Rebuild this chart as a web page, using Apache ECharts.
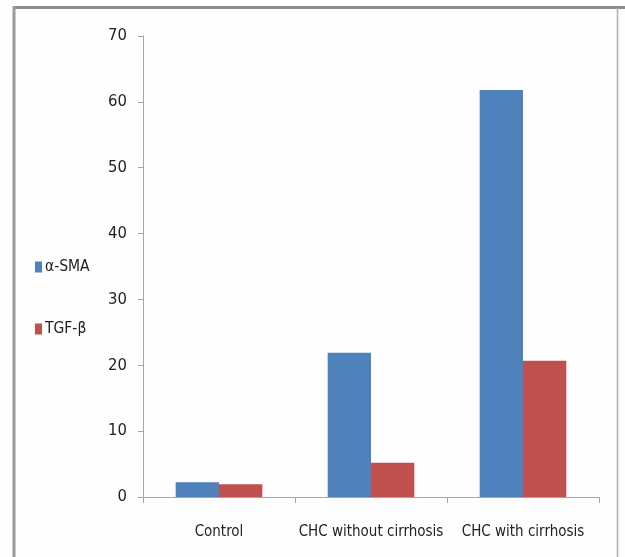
<!DOCTYPE html>
<html>
<head>
<meta charset="utf-8">
<script src="https://cdn.jsdelivr.net/npm/echarts@6/dist/echarts.min.js"></script>
<style>html,body{margin:0;padding:0;background:#fff}#c{width:625px;height:557px}</style>
</head>
<body>
<div id="c"></div>
<script>
var categories = ['Control', 'CHC without cirrhosis', 'CHC with cirrhosis'];
var seriesNames = ['\u03b1-SMA', 'TGF-\u03b2'];
var smaValues = [2.25, 21.9, 61.8];
var tgfValues = [1.95, 5.2, 20.7];
var yTicks = [0, 10, 20, 30, 40, 50, 60, 70];

var font = '"DejaVu Sans Condensed", "Liberation Sans Narrow", sans-serif';
var chart = echarts.init(document.getElementById('c'));
chart.setOption({
  backgroundColor: '#fefefe',
  animation: false,
  graphic: [
    {type: 'line', shape: {x1: 14, y1: 7.5, x2: 625, y2: 7.5}, style: {stroke: '#8c8c8c', lineWidth: 3}},
    {type: 'line', shape: {x1: 14, y1: 6, x2: 14, y2: 557}, style: {stroke: '#9a9a9a', lineWidth: 3}},
    {type: 'line', shape: {x1: 617.5, y1: 8, x2: 617.5, y2: 557}, style: {stroke: '#b0b0b0', lineWidth: 1.5}}
  ],
  legend: {
    orient: 'vertical',
    left: 30,
    top: 254,
    itemWidth: 7,
    itemHeight: 11,
    itemGap: 46,
    icon: 'rect',
    data: seriesNames,
    textStyle: {fontFamily: font, fontSize: 15.5, color: '#222', padding: [0, 0, 0, -2]}
  },
  grid: {left: 143, right: 26, top: 36, bottom: 60, containLabel: false},
  xAxis: {
    type: 'category',
    data: categories,
    axisLine: {lineStyle: {color: '#a6a6a6'}},
    axisTick: {show: true, length: 6, lineStyle: {color: '#a6a6a6'}},
    axisLabel: {fontFamily: font, fontSize: 15, color: '#222', margin: 28, interval: 0}
  },
  yAxis: {
    type: 'value',
    min: yTicks[0],
    max: yTicks[yTicks.length - 1],
    interval: yTicks[1] - yTicks[0],
    axisLine: {show: true, lineStyle: {color: '#a6a6a6'}},
    axisTick: {show: true, length: 5, lineStyle: {color: '#a6a6a6'}},
    splitLine: {show: false},
    axisLabel: {fontFamily: font, fontSize: 16.5, color: '#222', margin: 16}
  },
  series: [
    {name: seriesNames[0], type: 'bar', data: smaValues, barGap: '0%', barCategoryGap: '43%',
     itemStyle: {color: '#4f81bd'}},
    {name: seriesNames[1], type: 'bar', data: tgfValues, barGap: '0%', barCategoryGap: '43%',
     itemStyle: {color: '#c0504d'}}
  ]
});
</script>
</body>
</html>
